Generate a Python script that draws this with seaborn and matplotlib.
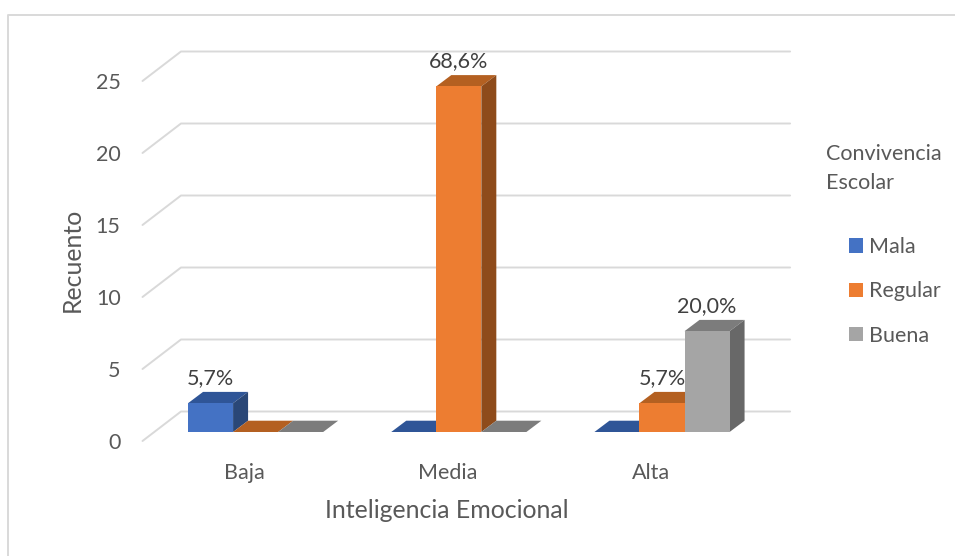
import matplotlib
matplotlib.use('Agg')
import matplotlib.pyplot as plt
import matplotlib.transforms as mtrans
from matplotlib.lines import Line2D
from matplotlib.patches import Polygon
import pandas as pd
import seaborn as sns

categorias = ['Baja', 'Media', 'Alta']
niveles = ['Mala', 'Regular', 'Buena']
mala = [2, 0, 0]
regular = [0, 24, 2]
buena = [0, 0, 7]
etiquetas_mala = ['5,7%', '', '']
etiquetas_regular = ['', '68,6%', '5,7%']
etiquetas_buena = ['', '', '20,0%']
ticks_y = [0, 5, 10, 15, 20, 25]

col_frente = ['#4472C4', '#ED7D31', '#A5A5A5']
col_tope = ['#2F5597', '#B46021', '#7C7C7C']
col_lado = ['#2A4777', '#8E4B1B', '#686868']
gris_linea = '#D9D9D9'
gris_texto = '#595959'

W, H = 955, 556
sns.set_theme(style='white')
plt.rcParams['font.family'] = ['Lato', 'DejaVu Sans']

df = pd.DataFrame({
    'Inteligencia': categorias * 3,
    'Convivencia': [n for n in niveles for _ in categorias],
    'Recuento': mala + regular + buena,
})

fig = plt.figure(figsize=(W / 100, H / 100), dpi=100, facecolor='white')
# plano de las barras, en pixeles de la imagen
izq, der, base, tope = 154.0, 763.6, 432, 72
ax = fig.add_axes([izq / W, (H - base) / H, (der - izq) / W, (base - tope) / H])

sns.barplot(data=df, x='Inteligencia', y='Recuento', hue='Convivencia', order=categorias,
            hue_order=niveles, palette=col_frente, saturation=1, width=0.665, gap=0,
            linewidth=0, ax=ax, zorder=5)
ax.set_xlim(-0.5, 2.5)
ax.set_ylim(0, 25)
sns.despine(ax=ax, left=True, bottom=True)

px_x = 3 / (der - izq)  # unidades de categoria por pixel
px_y = 25 / (base - tope)  # unidades de recuento por pixel

# Pared del fondo: lineas horizontales y diagonales hacia el frente
for v in ticks_y:
    ax.plot([-0.5 - 11.5 * px_x, -0.5 + 27 * px_x, 2.5 + 26.5 * px_x],
            [v - 9 * px_y, v + 20.5 * px_y, v + 20.5 * px_y],
            color=gris_linea, lw=1.4, clip_on=False, zorder=1)

# Profundidad de cada barra (tope y lado)
prof_x, prof_y = 15 * px_x, 11.3 * px_y
orden = 5
for j in range(len(categorias)):
    for i, cont in enumerate(ax.containers):
        bar = cont[j]
        x0, x1, h = bar.get_x(), bar.get_x() + bar.get_width(), bar.get_height()
        bar.set_zorder(orden + 2)
        ax.add_patch(Polygon([(x0, h), (x1, h), (x1 + prof_x, h + prof_y), (x0 + prof_x, h + prof_y)],
                             closed=True, fc=col_tope[i], ec='none', clip_on=False, zorder=orden))
        if h > 0:
            ax.add_patch(Polygon([(x1, 0), (x1 + prof_x, prof_y), (x1 + prof_x, h + prof_y), (x1, h)],
                                 closed=True, fc=col_lado[i], ec='none', clip_on=False, zorder=orden + 1))
        orden += 3

for cont, etiquetas in zip(ax.containers, [etiquetas_mala, etiquetas_regular, etiquetas_buena]):
    for txt in ax.bar_label(cont, labels=etiquetas, padding=11, fontsize=15.5, color='#404040'):
        txt.set_zorder(100)
        txt.set_clip_on(False)

# Ejes
ax.set_yticks(ticks_y)
ax.set_yticklabels([str(v) for v in ticks_y])
ax.tick_params(axis='y', length=0, pad=24, labelsize=15.5, labelcolor=gris_texto)
ax.tick_params(axis='x', length=0, pad=22, labelsize=15.5, labelcolor=gris_texto)
off_y = mtrans.Affine2D().translate(0, -9)
off_x = mtrans.Affine2D().translate(-11, 0)
for lab in ax.get_yticklabels():
    lab.set_transform(lab.get_transform() + off_y)
for lab in ax.get_xticklabels():
    lab.set_transform(lab.get_transform() + off_x)

ax.set_xlabel('Inteligencia Emocional', fontsize=17.9, color=gris_texto, va='center')
ax.set_ylabel('Recuento', fontsize=17.9, color=gris_texto, va='center')
ax.xaxis.set_label_coords((447 - izq) / (der - izq), -(511 - base) / (base - tope))
ax.yaxis.set_label_coords((72 - izq) / (der - izq), (base - 260) / (base - tope))

# Leyenda
handles, labels = ax.get_legend_handles_labels()
ax.legend(handles, labels, loc='upper left', bbox_to_anchor=(849 / W, 1 - 237 / H),
          bbox_transform=fig.transFigure, frameon=False, fontsize=15.5, borderpad=0, borderaxespad=0,
          handlelength=0.65, handleheight=0.65, handletextpad=0.27, labelspacing=1.13,
          labelcolor=gris_texto)
fig.text(826 / W, 1 - 154 / H, 'Convivencia', fontsize=15.5, color=gris_texto, va='center')
fig.text(826 / W, 1 - 183 / H, 'Escolar', fontsize=15.5, color=gris_texto, va='center')

# Marco exterior (solo arriba e izquierda)
fig.add_artist(Line2D([8 / W, 8 / W, 1], [0, 1 - 15 / H, 1 - 15 / H], color=gris_linea, lw=1.4))

fig.savefig('out.png', dpi=100, facecolor='white')
plt.close(fig)
